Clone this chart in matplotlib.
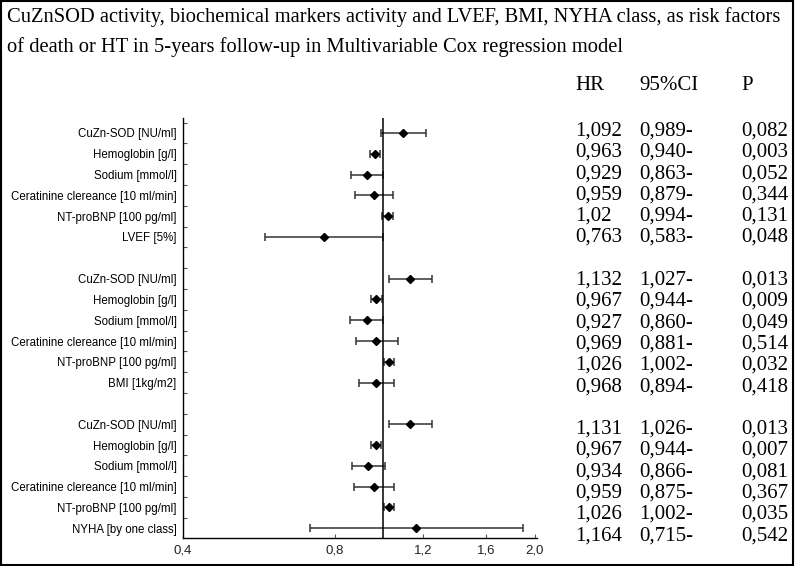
import numpy as np
import matplotlib.pyplot as plt
from matplotlib.patches import Rectangle

# three multivariable models, six factors each
factors_1 = ["CuZn-SOD [NU/ml]", "Hemoglobin [g/l]", "Sodium [mmol/l]",
             "Ceratinine clereance [10 ml/min]", "NT-proBNP [100 pg/ml]", "LVEF [5%]"]
factors_2 = ["CuZn-SOD [NU/ml]", "Hemoglobin [g/l]", "Sodium [mmol/l]",
             "Ceratinine clereance [10 ml/min]", "NT-proBNP [100 pg/ml]", "BMI [1kg/m2]"]
factors_3 = ["CuZn-SOD [NU/ml]", "Hemoglobin [g/l]", "Sodium [mmol/l]",
             "Ceratinine clereance [10 ml/min]", "NT-proBNP [100 pg/ml]", "NYHA [by one class]"]

hr_1 = [1.092, 0.963, 0.929, 0.959, 1.02, 0.763]
lo_1 = [0.989, 0.940, 0.863, 0.879, 0.994, 0.583]
hi_1 = [1.215, 0.987, 1.000, 1.046, 1.045, 0.999]
p_1 = [0.082, 0.003, 0.052, 0.344, 0.131, 0.048]

hr_2 = [1.132, 0.967, 0.927, 0.969, 1.026, 0.968]
lo_2 = [1.027, 0.944, 0.860, 0.881, 1.002, 0.894]
hi_2 = [1.250, 0.992, 0.999, 1.068, 1.051, 1.049]
p_2 = [0.013, 0.009, 0.049, 0.514, 0.032, 0.418]

hr_3 = [1.131, 0.967, 0.934, 0.959, 1.026, 1.164]
lo_3 = [1.026, 0.944, 0.866, 0.875, 1.002, 0.715]
hi_3 = [1.248, 0.991, 1.008, 1.052, 1.052, 1.895]
p_3 = [0.013, 0.007, 0.081, 0.367, 0.035, 0.542]

xticks = [0.4, 0.8, 1.2, 1.6, 2.0]
xtick_labels = ["0,4", "0,8", "1,2", "1,6", "2,0"]

title = ("CuZnSOD activity, biochemical markers activity and LVEF, BMI, NYHA class, as risk factors\n"
         "of death or HT in 5-years follow-up in Multivariable Cox regression model")

groups = [(factors_1, hr_1, lo_1, hi_1, p_1),
          (factors_2, hr_2, lo_2, hi_2, p_2),
          (factors_3, hr_3, lo_3, hi_3, p_3)]

W, H = 798, 566
fig = plt.figure(figsize=(W / 100, H / 100), dpi=100)
ax = fig.add_axes([183 / W, 1 - 538 / H, 354 / W, 420 / H])

serif = "Liberation Serif"
sans = "Liberation Sans"

rows_all, labels_all = [], []
for g, (fac, hr, lo, hi, p) in enumerate(groups):
    rows = np.arange(len(fac)) + 7 * g
    hr = np.array(hr); lo = np.array(lo); hi = np.array(hi)
    ax.errorbar(hr, rows, xerr=[hr - lo, hi - hr], fmt='D', color='black', ms=4.5,
                ecolor='#333333', elinewidth=1.1, capsize=3, capthick=1.1)
    rows_all += list(rows)
    labels_all += fac
    # table on the right
    for i in range(len(fac)):
        ty = 1 - (131 + 21.3 * (7 * g + i)) / H
        fig.text(575 / W, ty, f"{hr[i]:g}".replace(".", ","), fontsize=15, family=serif, va='center')
        fig.text(639 / W, ty, f"{lo[i]:.3f}".replace(".", ",") + "-", fontsize=15, family=serif, va='center')
        fig.text(741 / W, ty, f"{p[i]:.3f}".replace(".", ","), fontsize=15, family=serif, va='center')

for x, lab in zip([575, 639, 741], ["HR", "95%CI", "P"]):
    fig.text(x / W, 1 - 85 / H, lab, fontsize=15, family=serif, va='center')

ax.axvline(1.0, color='black', lw=1.1)

ax.set_xscale('log')
ax.set_xlim(0.4, 2.02)
ax.set_ylim(19.47, -0.72)
ax.xaxis.set_minor_locator(plt.NullLocator())
ax.set_xticks(xticks)
ax.set_xticklabels(xtick_labels, family=sans, fontsize=9.5)
ax.tick_params(axis='x', direction='in', length=3, width=0.8, pad=5, colors='#555555', labelcolor='#222222')

ax.set_yticks(rows_all)
ax.set_yticklabels(labels_all, family=sans, fontsize=8.3)
ax.set_yticks(np.arange(-0.5, 19.5, 1), minor=True)
ax.tick_params(axis='y', which='major', length=0, pad=4.5)
ax.tick_params(axis='y', which='minor', direction='in', length=3, width=0.8, colors='#555555')

for s in ['top', 'right']:
    ax.spines[s].set_visible(False)
for s in ['left', 'bottom']:
    ax.spines[s].set_linewidth(1.0)

fig.text(7 / W, 1 - 32 / H, title, fontsize=14.8, family=serif, va='center', linespacing=1.7)

fig.patches.append(Rectangle((1 / W, 1 / H), 792 / W, 564 / H, transform=fig.transFigure,
                             fill=False, edgecolor='black', lw=1.5))

fig.savefig("out.png", dpi=100)
